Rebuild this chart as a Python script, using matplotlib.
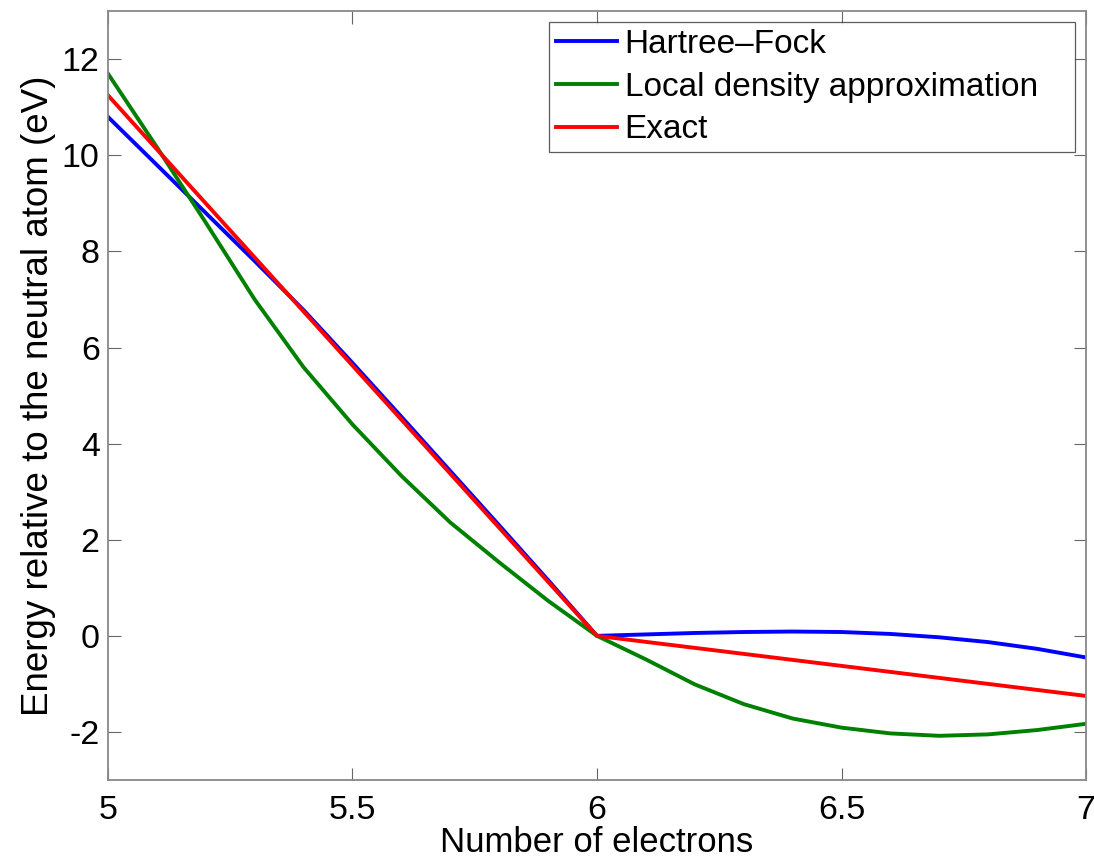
import matplotlib
matplotlib.use("Agg")
import matplotlib.pyplot as plt

plt.rcParams['font.family'] = ['Liberation Sans', 'DejaVu Sans']
plt.rcParams['axes.unicode_minus'] = False

x_left = [5.0, 5.1, 5.2, 5.3, 5.4, 5.5, 5.6, 5.7, 5.8, 5.9, 6.0]
x_right = [6.0, 6.1, 6.2, 6.3, 6.4, 6.5, 6.6, 6.7, 6.8, 6.9, 7.0]
x_all = x_left + x_right[1:]

hf = [10.8, 9.8, 8.8, 7.8, 6.78, 5.68, 4.56, 3.43, 2.3, 1.16, 0.0,
      0.03, 0.06, 0.08, 0.09, 0.08, 0.04, -0.03, -0.13, -0.27, -0.45]
lda = [11.7, 10.17, 8.6, 7.0, 5.59, 4.4, 3.33, 2.36, 1.53, 0.73, 0.0,
       -0.49, -1.01, -1.42, -1.72, -1.91, -2.03, -2.08, -2.05, -1.96, -1.83]
exact_x = [5.0, 6.0, 7.0]
exact = [11.25, 0.0, -1.25]

labels = ['Hartree\u2013Fock', 'Local density approximation', 'Exact']

fig = plt.figure(figsize=(10.94, 8.6), dpi=100)
ax = fig.add_axes([0.0987, 0.093, 0.894, 0.894])
ax.plot(x_all, hf, color='#0000ff', lw=2.8, label=labels[0])
ax.plot(x_all, lda, color='#008000', lw=2.8, label=labels[1])
ax.plot(exact_x, exact, color='#ff0000', lw=2.8, label=labels[2])

ax.set_xlim(5, 7)
ax.set_ylim(-3, 13)
ax.set_xticks([5, 5.5, 6, 6.5, 7])
ax.set_xticklabels(['5', '5.5', '6', '6.5', '7'])
ax.set_yticks([-2, 0, 2, 4, 6, 8, 10, 12])
ax.tick_params(axis='both', direction='in', top=True, right=True, labelsize=24.5,
               length=9, color='#666666')
ax.tick_params(axis='x', pad=11)
ax.tick_params(axis='y', pad=6)
for s in ax.spines.values():
    s.set_color('#888888')
    s.set_linewidth(1.3)
ax.set_xlabel('Number of electrons', fontsize=25, labelpad=0)
ax.set_ylabel('Energy relative to the neutral atom (eV)', fontsize=26.5, labelpad=4)

leg = ax.legend(loc='upper left', bbox_to_anchor=(0.451, 0.5, 0.538, 0.4857),
                mode='expand', fontsize=24, frameon=True, fancybox=False,
                edgecolor='#333333', borderaxespad=0.0, handlelength=1.85,
                handletextpad=0.22, borderpad=0.2, labelspacing=0.35)
leg.get_frame().set_linewidth(0.9)

fig.savefig('out.png', dpi=100)
